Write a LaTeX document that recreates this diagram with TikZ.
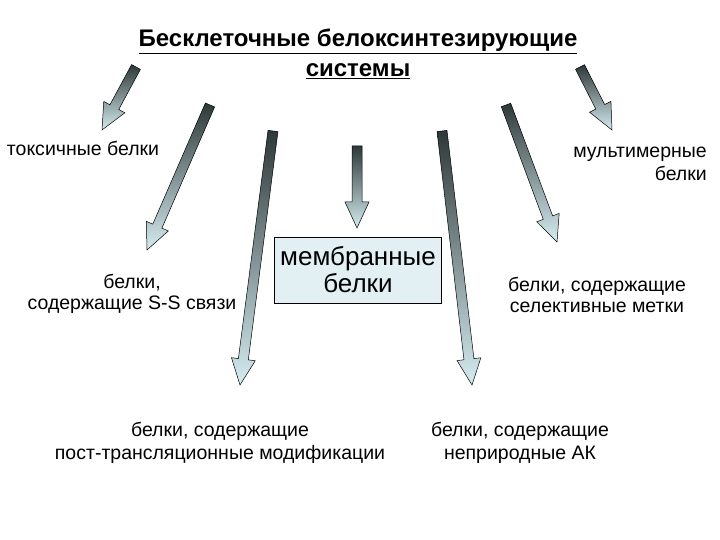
\documentclass[tikz,border=0pt]{standalone}
\usepackage{fontspec}
\setmainfont{Liberation Sans}
\usetikzlibrary{calc}
\definecolor{adark}{HTML}{2E3838}
\definecolor{alight}{HTML}{D4ECF0}
\definecolor{boxfill}{HTML}{E2F0F4}
\newcommand\barrow[3]{%
\coordinate (#1h) at ($(#3)!26pt!(#2)$);
\shade[draw=black, line width=0.5pt, top color=adark, bottom color=alight]
 ($(#2)!5pt!90:(#3)$) -- ($(#1h)!5pt!-90:(#2)$) -- ($(#1h)!12pt!-90:(#2)$) -- (#3)
 -- ($(#1h)!12pt!90:(#2)$) -- ($(#1h)!5pt!90:(#2)$) -- ($(#2)!5pt!-90:(#3)$) -- cycle;}
\tikzset{lbl/.style={align=center, font=\fontsize{19.5}{21}\selectfont, inner sep=0pt}}
\begin{document}
\begin{tikzpicture}[x=1pt,y=-1pt]
\useasboundingbox (0,0) rectangle (720,540);
\node[lbl, font=\fontsize{24}{30}\selectfont\bfseries] (title) at (358,54)
 {\underline{Бесклеточные белоксинтезирующие}\\\underline{системы}};
\node[lbl] (tox) at (83,148) {токсичные белки};
\node[lbl, align=right, font=\fontsize{19.5}{23}\selectfont] (multi) at (640,164) {мультимерные\\белки};
\node[lbl] (ss) at (132,294) {белки,\\содержащие S-S связи};
\node[lbl] (sel) at (597,295) {белки, содержащие\\селективные метки};
\node[lbl, font=\fontsize{19.5}{23}\selectfont] (post) at (220,443) {белки, содержащие\\пост-трансляционные модификации};
\node[lbl, font=\fontsize{19.5}{23}\selectfont] (unn) at (520,443) {белки, содержащие\\неприродные АК};
\node[draw=black, fill=boxfill, minimum width=167pt, minimum height=66pt, align=center,
 font=\fontsize{26}{27}\selectfont, inner sep=0pt] (mem) at (358,270) {мембранные\\белки};
\coordinate (t1) at (136,67); \coordinate (e1) at (102,130);
\coordinate (t2) at (210,105); \coordinate (e2) at (147,250);
\coordinate (t3) at (273,131); \coordinate (e3) at (240,385);
\coordinate (t4) at (357,146); \coordinate (e4) at (357,228);
\coordinate (t5) at (442,131); \coordinate (e5) at (472,385);
\coordinate (t6) at (506,105); \coordinate (e6) at (557,242);
\coordinate (t7) at (580,67); \coordinate (e7) at (612,130);
\barrow{a1}{t1}{e1}
\barrow{a2}{t2}{e2}
\barrow{a3}{t3}{e3}
\barrow{a4}{t4}{e4}
\barrow{a5}{t5}{e5}
\barrow{a6}{t6}{e6}
\barrow{a7}{t7}{e7}
\end{tikzpicture}
\end{document}
